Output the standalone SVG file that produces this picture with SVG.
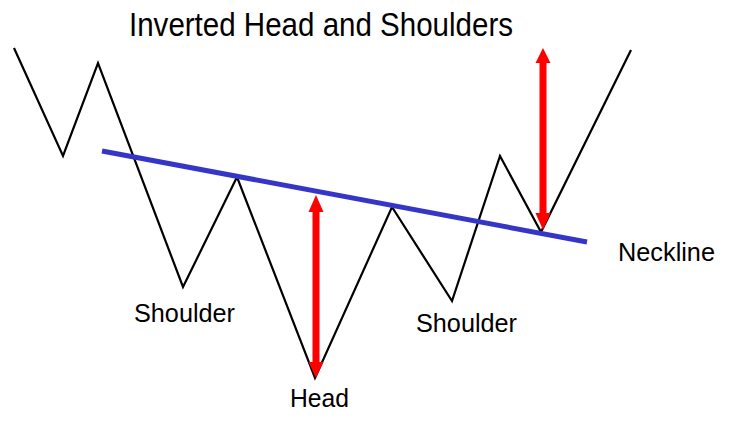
<svg xmlns="http://www.w3.org/2000/svg" width="735" height="423" viewBox="0 0 735 423">
<style>
text{font-family:"Liberation Sans",Arial,sans-serif;fill:#000}
.lbl{font-size:25px}
.arr{fill:#ff0000}
</style>
<rect width="735" height="423" fill="#fff"/>
<text x="129" y="36" font-size="33" textLength="384" lengthAdjust="spacingAndGlyphs">Inverted Head and Shoulders</text>
<g id="price">
<polyline points="14,48 63,156 98,63 183,287 237,177 315,378 392,207 452,301 500,156 541,232 631,50" fill="none" stroke="#000" stroke-width="2.2" stroke-linejoin="miter"/>
</g>
<g id="neckline">
<line x1="102" y1="151" x2="587" y2="242" stroke="#3535c8" stroke-width="5"/>
</g>
<g id="connectors">
<g id="arrow-head">
<rect x="312.5" y="210" width="7" height="155" class="arr"/>
<polygon points="316,195 308.5,212 323.5,212" class="arr"/>
<polygon points="316,378 308.5,362 323.5,362" class="arr"/>
</g>
<g id="arrow-breakout">
<rect x="539.5" y="61" width="7" height="154" class="arr"/>
<polygon points="543,48 535.5,63 550.5,63" class="arr"/>
<polygon points="543,230 535.5,213 550.5,213" class="arr"/>
</g>
</g>
<g id="label-left-shoulder"><text class="lbl" x="134" y="322" textLength="101" lengthAdjust="spacingAndGlyphs">Shoulder</text></g>
<g id="label-head"><text class="lbl" x="290" y="407" textLength="59" lengthAdjust="spacingAndGlyphs">Head</text></g>
<g id="label-right-shoulder"><text class="lbl" x="416" y="332" textLength="101" lengthAdjust="spacingAndGlyphs">Shoulder</text></g>
<g id="label-neckline"><text class="lbl" x="618" y="261" textLength="97" lengthAdjust="spacingAndGlyphs">Neckline</text></g>
</svg>
